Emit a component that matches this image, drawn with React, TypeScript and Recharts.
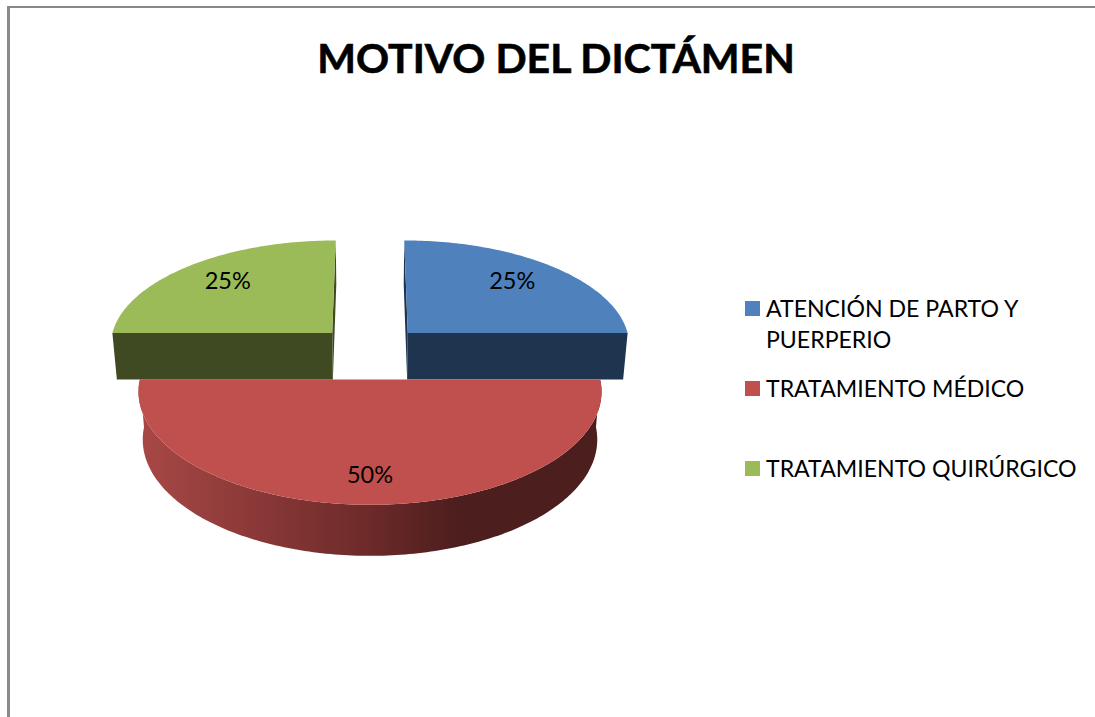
import React from 'react';
import { PieChart, Pie, Legend } from 'recharts';

const categories = ['ATENCIÓN DE PARTO Y PUERPERIO', 'TRATAMIENTO MÉDICO', 'TRATAMIENTO QUIRÚRGICO'];
const values = [25, 50, 25];
const topColors = ['#4f81bd', '#c0504d', '#9bbb59'];
const wallColors = ['#1f344e', 'url(#redWall)', '#3f4a22'];
const labelRadius = [0.72, 0.774, 0.72];
const labelShift = [-3.5, 0, -3.5];
const legendTops = [293, 373, 453];

const data = categories.map((name, i) => ({ name, value: values[i], fill: topColors[i] }));

const W = 1095, H = 717;
const FONT = 'Lato, Carlito, sans-serif';
const EXPLODE_X = 0.243, EXPLODE_Y = 0.255;
const PERSP = 0.105, TILT = 0.473, DEPTH = 0.214, DEPTH_PERSP = 0.018;
const RAD = Math.PI / 180;

function project(cx: number, cy: number, R: number, X: number, Y: number, Z: number) {
  const w = 1 - PERSP * Y + DEPTH_PERSP * Z;
  return { x: cx + (R * X) / w, y: cy + (R * TILT * Y + R * DEPTH * Z) / w };
}

function worldPoint(mid: number, angle: number, r: number) {
  return {
    X: EXPLODE_X * Math.cos(mid * RAD) + r * Math.cos(angle * RAD),
    Y: -EXPLODE_Y * Math.sin(mid * RAD) - r * Math.sin(angle * RAD),
  };
}

const toPath = (pts: { x: number; y: number }[]) =>
  pts.map((p, i) => `${i ? 'L' : 'M'}${p.x.toFixed(2)} ${p.y.toFixed(2)}`).join('') + 'Z';

function Slice3D(props: any) {
  const { cx, cy, outerRadius: R, startAngle, endAngle, index, fill } = props;
  const mid = (startAngle + endAngle) / 2;
  const pt = (a: number, r: number, z: number) => {
    const w = worldPoint(mid, a, r);
    return project(cx, cy, R, w.X, w.Y, z);
  };
  const angles: number[] = [];
  const n = Math.ceil(Math.abs(endAngle - startAngle));
  for (let i = 0; i <= n; i++) angles.push(startAngle + ((endAngle - startAngle) * i) / n);
  const top = toPath([pt(mid, 0, 0), ...angles.map((a) => pt(a, 1, 0))]);
  const wall = wallColors[index];
  const edge = (a: number) => toPath([pt(a, 0, 0), pt(a, 1, 0), pt(a, 1, 1), pt(a, 0, 1)]);
  const front = angles.filter((a) => Math.sin(a * RAD) <= 0.0001);
  const arcWall =
    front.length > 1
      ? toPath([...front.map((a) => pt(a, 1, 0)), ...[...front].reverse().map((a) => pt(a, 1, 1))])
      : null;
  return (
    <g>
      <path d={edge(startAngle)} fill={index === 1 ? 'none' : wall} />
      <path d={edge(endAngle)} fill={index === 1 ? 'none' : wall} />
      {arcWall && <path d={arcWall} fill={wall} />}
      <path d={top} fill={fill} />
    </g>
  );
}

function renderLabel(props: any) {
  const { cx, cy, outerRadius: R, midAngle, percent, index } = props;
  const w = worldPoint(midAngle, midAngle, labelRadius[index]);
  const p = project(cx, cy, R, w.X, w.Y, 0);
  return (
    <text
      x={p.x}
      y={p.y + labelShift[index]}
      textAnchor="middle"
      dominantBaseline="central"
      fontFamily={FONT}
      fontSize={23.5}
      fill="#000"
    >
      {`${Math.round(percent * 100)}%`}
    </text>
  );
}

function LegendBox(props: any) {
  const items = props.payload || [];
  return (
    <div style={{ position: 'relative', width: W, height: H }}>
      {items.map((it: any, i: number) => (
        <div
          key={it.value}
          style={{
            position: 'absolute',
            left: 766,
            top: legendTops[i],
            width: 325,
            fontFamily: FONT,
            fontSize: 23.1,
            lineHeight: '31px',
            color: '#000',
          }}
        >
          <span
            style={{
              position: 'absolute',
              left: -21,
              top: 8,
              width: 15,
              height: 15,
              background: it.color,
            }}
          />
          {it.value}
        </div>
      ))}
    </div>
  );
}

export default function App() {
  return (
    <div style={{ position: 'absolute', left: 0, top: 0, width: W, height: H, background: '#fff' }}>
      <PieChart width={W} height={H} margin={{ top: 0, right: 0, bottom: 0, left: 0 }}>
        <defs>
          <linearGradient id="redWall" gradientUnits="userSpaceOnUse" x1={139} y1={0} x2={601} y2={0}>
            <stop offset="0" stopColor="#a84846" />
            <stop offset="0.5" stopColor="#6c2a29" />
            <stop offset="0.69" stopColor="#4c1e1d" />
            <stop offset="1" stopColor="#4c1e1d" />
          </linearGradient>
        </defs>
        <rect x={7} y={6} width={W - 7} height={2} fill="#888888" />
        <rect x={7} y={6} width={3} height={H - 6} fill="#8a8a8a" />
        <text
          x={556}
          y={72.5}
          textAnchor="middle"
          fontFamily={FONT}
          fontWeight={700}
          fontSize={41}
          stroke="#000"
          strokeWidth={0.6}
          fill="#000"
        >
          MOTIVO DEL DICTÁMEN
        </text>
        <Pie
          data={data}
          dataKey="value"
          nameKey="name"
          cx={370}
          cy={351.7}
          outerRadius={224}
          startAngle={90}
          endAngle={-270}
          stroke="none"
          shape={Slice3D}
          label={renderLabel}
          labelLine={false}
          isAnimationActive={false}
        />
        <Legend
          content={LegendBox}
          wrapperStyle={{ position: 'absolute', left: 0, top: 0, width: W, height: H, pointerEvents: 'none' }}
        />
      </PieChart>
    </div>
  );
}
